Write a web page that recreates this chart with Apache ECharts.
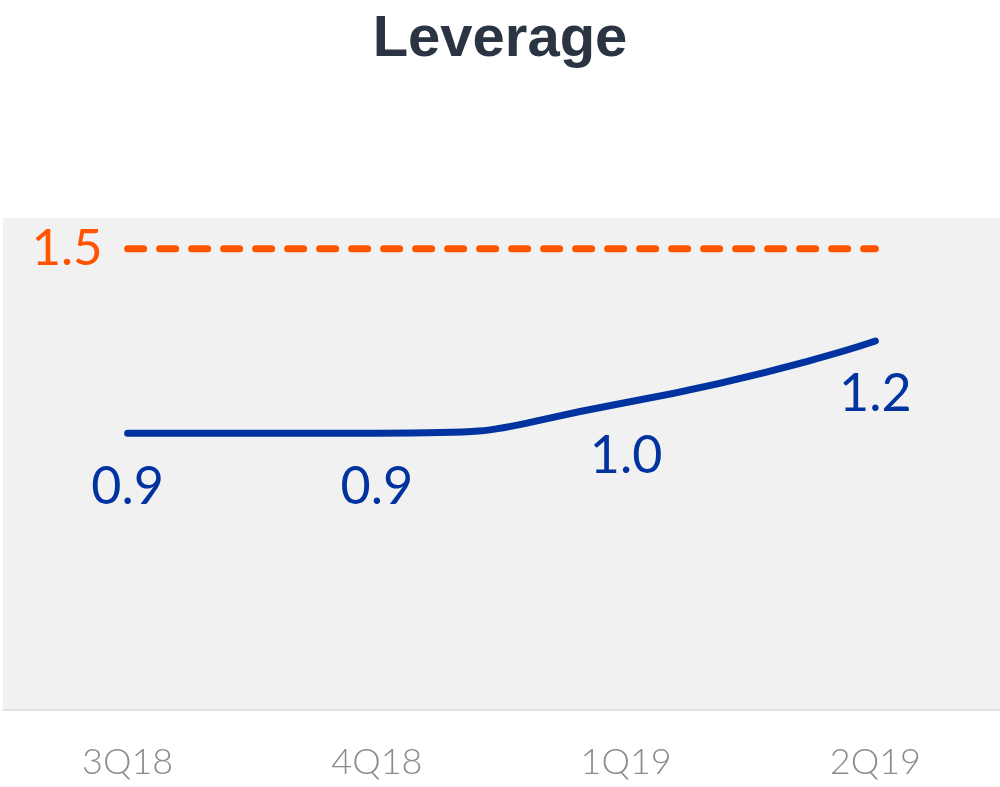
<!DOCTYPE html>
<html>
<head>
<meta charset="utf-8">
<script src="https://cdn.jsdelivr.net/npm/echarts@6/dist/echarts.min.js"></script>
<style>
  html, body { margin: 0; padding: 0; background: #ffffff; }
  #chart { width: 1000px; height: 787px; }
</style>
</head>
<body>
<div id="chart"></div>
<script>
// Quarterly leverage against the 1.5x limit
const quarters = ['3Q18', '4Q18', '1Q19', '2Q19'];
const leverage = [0.9, 0.9, 1.0, 1.2];
const limitValue = 1.5;
const limitLine = quarters.map(() => limitValue);

const chart = echarts.init(document.getElementById('chart'));
chart.setOption({
  backgroundColor: '#ffffff',
  animation: false,
  title: {
    text: 'Leverage',
    left: 'center',
    top: 6,
    textStyle: {
      fontFamily: 'Liberation Sans, Arial, sans-serif',
      fontSize: 58,
      fontWeight: 'bold',
      color: '#2b3443'
    }
  },
  grid: {
    left: 3,
    width: 1000,
    top: 218,
    bottom: 77,
    show: true,
    backgroundColor: '#f1f1f1',
    borderWidth: 0
  },
  xAxis: {
    type: 'category',
    data: quarters,
    boundaryGap: true,
    axisLine: { show: true, lineStyle: { color: '#e4e4e4', width: 2 } },
    axisTick: { show: false },
    axisLabel: {
      margin: 34,
      fontFamily: 'Lato, sans-serif',
      fontWeight: 300,
      fontSize: 36,
      color: '#8c8c8c'
    }
  },
  yAxis: {
    type: 'value',
    min: 0,
    max: 1.6,
    show: false,
    splitLine: { show: false }
  },
  series: [
    {
      name: 'Limit',
      type: 'line',
      data: limitLine,
      symbol: 'none',
      lineStyle: { color: '#ff5300', width: 7, type: [16, 16], cap: 'round' },
      markPoint: {
        symbol: 'circle',
        symbolSize: 0,
        data: [{ coord: [0, limitValue] }],
        label: {
          show: true,
          position: 'left',
          distance: 25,
          formatter: () => limitValue.toFixed(1),
          fontFamily: 'Lato, sans-serif',
          fontSize: 51,
          color: '#ff5300'
        }
      }
    },
    {
      name: 'Leverage',
      type: 'line',
      data: leverage,
      smooth: 0.6,
      symbol: 'circle',
      showSymbol: true,
      symbolSize: 1,
      itemStyle: { color: 'rgba(0,0,0,0)' },
      lineStyle: { color: '#0033a0', width: 7, cap: 'round' },
      label: {
        show: true,
        position: 'bottom',
        distance: 27,
        formatter: p => p.value.toFixed(1),
        fontFamily: 'Lato, sans-serif',
        fontSize: 52,
        color: '#0033a0'
      }
    }
  ]
});
</script>
</body>
</html>
